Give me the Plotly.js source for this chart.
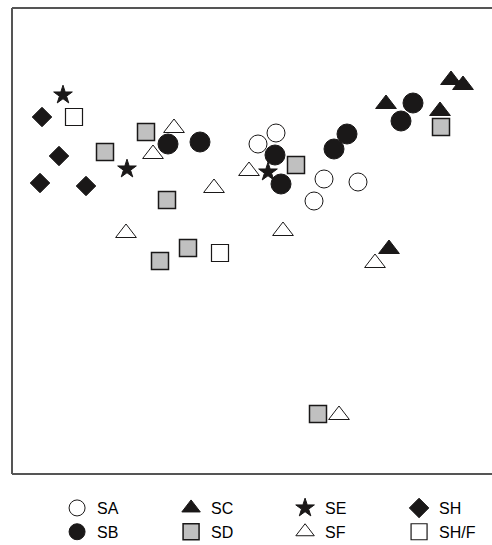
<!DOCTYPE html>
<html>
<head>
<meta charset="utf-8">
<script src="https://cdn.plot.ly/plotly-3.0.1.min.js"></script>
<style>html,body{margin:0;padding:0;background:#fff;overflow:hidden;}#chart{width:492px;height:545px;}</style>
</head>
<body>
<div id="chart"></div>
<script>
// Ordination scores (arbitrary units)
const groups = ["SA", "SC", "SE", "SH", "SB", "SD", "SF", "SH/F"];

const SA_x = [264, 246, 312, 346, 302];
const SA_y = [341, 330, 295, 292, 273];

const SB_x = [156, 188, 401, 389, 335, 322, 263, 269];
const SB_y = [330, 332, 371, 353, 340, 325, 319, 290];

const SC_x = [439, 451, 374, 428, 377];
const SC_y = [394, 389, 370, 363, 225];

const SD_x = [134, 93, 155, 176, 148, 429, 284, 306];
const SD_y = [342, 322, 274, 226, 213, 347, 309, 60];

const SE_x = [51, 115, 256];
const SE_y = [379, 305, 302];

const SF_x = [162, 141, 202, 114, 237, 271, 363, 327];
const SF_y = [346, 320, 286, 241, 303, 243, 211, 59];

const SH_x = [30, 47, 28, 74];
const SH_y = [357, 318, 291, 288];

const SHF_x = [62, 208];
const SHF_y = [357, 221];

const BLACK = "#1a1818";
const GRAY = "#c0c0c0";

function tr(name, x, y, symbol, size, fill, rank, lw) {
  return {
    type: "scatter", mode: "markers", name: name, x: x, y: y,
    legendrank: rank,
    marker: {symbol: symbol, size: size, color: fill, line: {color: BLACK, width: lw}},
    hoverinfo: "skip"
  };
}

const data = [
  tr("SF", SF_x, SF_y, "triangle-up", 18, "#ffffff", 7, 1),
  tr("SA", SA_x, SA_y, "circle", 18, "#ffffff", 1, 1),
  tr("SD", SD_x, SD_y, "square", 17, GRAY, 6, 1.5),
  tr("SH/F", SHF_x, SHF_y, "square", 17, "#ffffff", 8, 1.2),
  tr("SB", SB_x, SB_y, "circle", 20, BLACK, 5, 1),
  tr("SC", SC_x, SC_y, "triangle-up", 18, BLACK, 2, 1),
  tr("SE", SE_x, SE_y, "star", 14, BLACK, 3, 1),
  tr("SH", SH_x, SH_y, "diamond", 15, BLACK, 4, 1)
];

const layout = {
  width: 492, height: 545,
  margin: {l: 12, r: 0, t: 8, b: 71},
  paper_bgcolor: "#ffffff", plot_bgcolor: "#ffffff",
  font: {family: "Liberation Sans, Arial, sans-serif", size: 16, color: "#000"},
  xaxis: {range: [0, 480], showgrid: false, zeroline: false, showticklabels: false, ticks: "", showline: false, fixedrange: true},
  yaxis: {range: [0, 466], showgrid: false, zeroline: false, showticklabels: false, ticks: "", showline: false, fixedrange: true},
  showlegend: true,
  legend: {
    orientation: "h", xref: "container", yref: "container",
    x: 0.116, xanchor: "left", y: 0.099, yanchor: "top",
    entrywidth: 69, entrywidthmode: "pixels",
    font: {family: "Liberation Sans, Arial, sans-serif", size: 16, color: "#000"},
    itemsizing: "trace", traceorder: "normal", bgcolor: "rgba(0,0,0,0)"
  },
  shapes: [
    {type: "line", xref: "paper", yref: "paper", x0: 0, x1: 0, y0: 0, y1: 1, line: {color: "#555", width: 2}},
    {type: "line", xref: "paper", yref: "paper", x0: 0, x1: 1.02, y0: 1, y1: 1, line: {color: "#555", width: 2}},
    {type: "line", xref: "paper", yref: "paper", x0: 0, x1: 1.02, y0: 0, y1: 0, line: {color: "#555", width: 2}}
  ]
};

Plotly.newPlot("chart", data, layout, {staticPlot: true, displayModeBar: false});
</script>
</body>
</html>
